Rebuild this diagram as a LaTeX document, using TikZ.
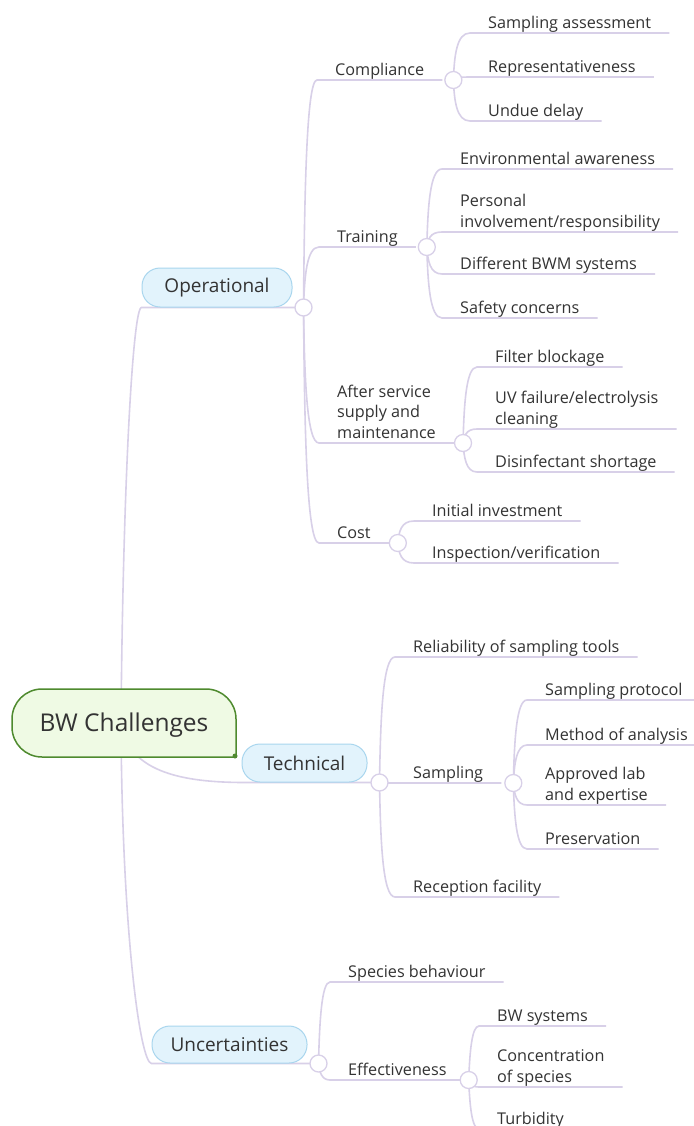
\documentclass[tikz,border=0pt]{standalone}
\usepackage{fontspec}
\setmainfont{Open Sans}
\usetikzlibrary{calc,backgrounds}
\definecolor{linec}{HTML}{D8D0E8}
\definecolor{txt}{HTML}{333333}
\definecolor{mainfill}{HTML}{E2F3FC}
\definecolor{maindraw}{HTML}{A9D6EE}
\definecolor{rootfill}{HTML}{EFFAE4}
\definecolor{rootdraw}{HTML}{4E8A2E}
\newcommand\mybranch[2]{\draw[conn] let \p1=(#1.center), \p2=(#2.south west) in (\p1) .. controls (\x1+1pt,{0.5*(\y1+\y2)}) and (\x1+3pt,\y2) .. (\p2) -- (#2.south east);}
\begin{document}
\begin{tikzpicture}[x=1pt,y=-1pt,
 leaf/.style={anchor=south west, inner xsep=18pt, inner ysep=0pt, text depth=4.5pt, font=\fontsize{16.2}{20.5}\selectfont, text=txt, align=left},
 mainbox/.style={draw=maindraw, fill=mainfill, rounded corners=18pt, line width=1pt, text=txt, font=\fontsize{19}{22}\selectfont, inner sep=0pt},
 hub/.style={circle, draw=linec, fill=white, line width=1.3pt, minimum size=17pt, inner sep=0pt},
 conn/.style={draw=linec, line width=1.6pt},
]
\useasboundingbox (0,0) rectangle (693,1126);

% root
\draw[draw=rootdraw, fill=rootfill, line width=1.5pt] (236,757) -- (236,719) arc[start angle=0, end angle=-90, radius=30] -- (42,689) arc[start angle=-90, end angle=-180, radius=30] -- (12,727) arc[start angle=180, end angle=90, radius=30] -- cycle;
\node[font=\fontsize{24.5}{28}\selectfont, text=txt] (root) at (124,725) {BW Challenges};
\node[circle, fill=rootdraw, minimum size=5pt, inner sep=0pt] (rdot) at (235,756) {};
\coordinate (rc) at (121,723);

% main branches
\node[mainbox, minimum width=150pt, minimum height=39pt] (op) at (217,287.5) {Operational};
\node[mainbox, minimum width=125pt, minimum height=38pt] (te) at (304.5,763) {Technical};
\node[mainbox, minimum width=155pt, minimum height=37pt] (un) at (229.5,1044.5) {Uncertainties};
\node[hub] (oph) at ([xshift=11pt]op.south east) {};
\node[hub] (teh) at ([xshift=12pt]te.south east) {};
\node[hub] (unh) at ([xshift=11pt]un.south east) {};

% Operational
\node[leaf] (comp) at (317,80) {Compliance};
\node[leaf] (trai) at (319,247) {Training};
\node[leaf] (afts) at (319,443) {After service\\supply and\\maintenance};
\node[leaf] (cost) at (319,543) {Cost};
\node[hub] (comph) at ([xshift=11pt]comp.south east) {};
\node[hub] (traih) at ([xshift=11pt]trai.south east) {};
\node[hub] (aftsh) at ([xshift=9pt]afts.south east) {};
\node[hub] (costh) at ([xshift=9pt]cost.south east) {};

\node[leaf] (c1) at (470,33) {Sampling assessment};
\node[leaf] (c2) at (470,77) {Representativeness};
\node[leaf] (c3) at (470,121) {Undue delay};

\node[leaf] (t1) at (442,169) {Environmental awareness};
\node[leaf] (t2) at (442,232) {Personal\\involvement/responsibility};
\node[leaf] (t3) at (442,274) {Different BWM systems};
\node[leaf] (t4) at (442,318) {Safety concerns};

\node[leaf] (a1) at (477,367) {Filter blockage};
\node[leaf] (a2) at (477,429) {UV failure/electrolysis\\cleaning};
\node[leaf] (a3) at (477,472) {Disinfectant shortage};

\node[leaf] (k1) at (414,521) {Initial investment};
\node[leaf] (k2) at (414,563) {Inspection/verification};

% Technical
\node[leaf] (r1) at (395,657) {Reliability of sampling tools};
\node[leaf] (samp) at (395,783) {Sampling};
\node[leaf] (r3) at (395,897) {Reception facility};
\node[hub] (samph) at ([xshift=12pt]samp.south east) {};

\node[leaf] (s1) at (527,700) {Sampling protocol};
\node[leaf] (s2) at (527,745) {Method of analysis};
\node[leaf] (s3) at (527,805) {Approved lab\\and expertise};
\node[leaf] (s4) at (527,849) {Preservation};

% Uncertainties
\node[leaf] (u1) at (330,982) {Species behaviour};
\node[leaf] (eff) at (330,1080) {Effectiveness};
\node[hub] (effh) at ([xshift=4pt]eff.south east) {};

\node[leaf] (e1) at (479,1026) {BW systems};
\node[leaf] (e2) at (479,1087) {Concentration\\of species};
\node[leaf] (e3) at (479,1129) {Turbidity};

\begin{scope}[on background layer]
\fill[white] (0,0) rectangle (693,1126);
\draw[conn] (rc) .. controls (123,480) and (133,307) .. (op.south west) -- (oph.center);
\draw[conn] (rc) .. controls (128,775) and (190,782) .. (te.south west) -- (teh.center);
\draw[conn] (rc) .. controls (122,930) and (140,1063) .. (un.south west) -- (unh.center);
\mybranch{oph}{comp}
\mybranch{oph}{trai}
\mybranch{oph}{afts}
\mybranch{oph}{cost}
\mybranch{comph}{c1}
\mybranch{comph}{c2}
\mybranch{comph}{c3}
\mybranch{traih}{t1}
\mybranch{traih}{t2}
\mybranch{traih}{t3}
\mybranch{traih}{t4}
\mybranch{aftsh}{a1}
\mybranch{aftsh}{a2}
\mybranch{aftsh}{a3}
\mybranch{costh}{k1}
\mybranch{costh}{k2}
\mybranch{teh}{r1}
\mybranch{teh}{samp}
\mybranch{teh}{r3}
\mybranch{samph}{s1}
\mybranch{samph}{s2}
\mybranch{samph}{s3}
\mybranch{samph}{s4}
\mybranch{unh}{u1}
\mybranch{unh}{eff}
\mybranch{effh}{e1}
\mybranch{effh}{e2}
\mybranch{effh}{e3}
\end{scope}
\end{tikzpicture}
\end{document}
